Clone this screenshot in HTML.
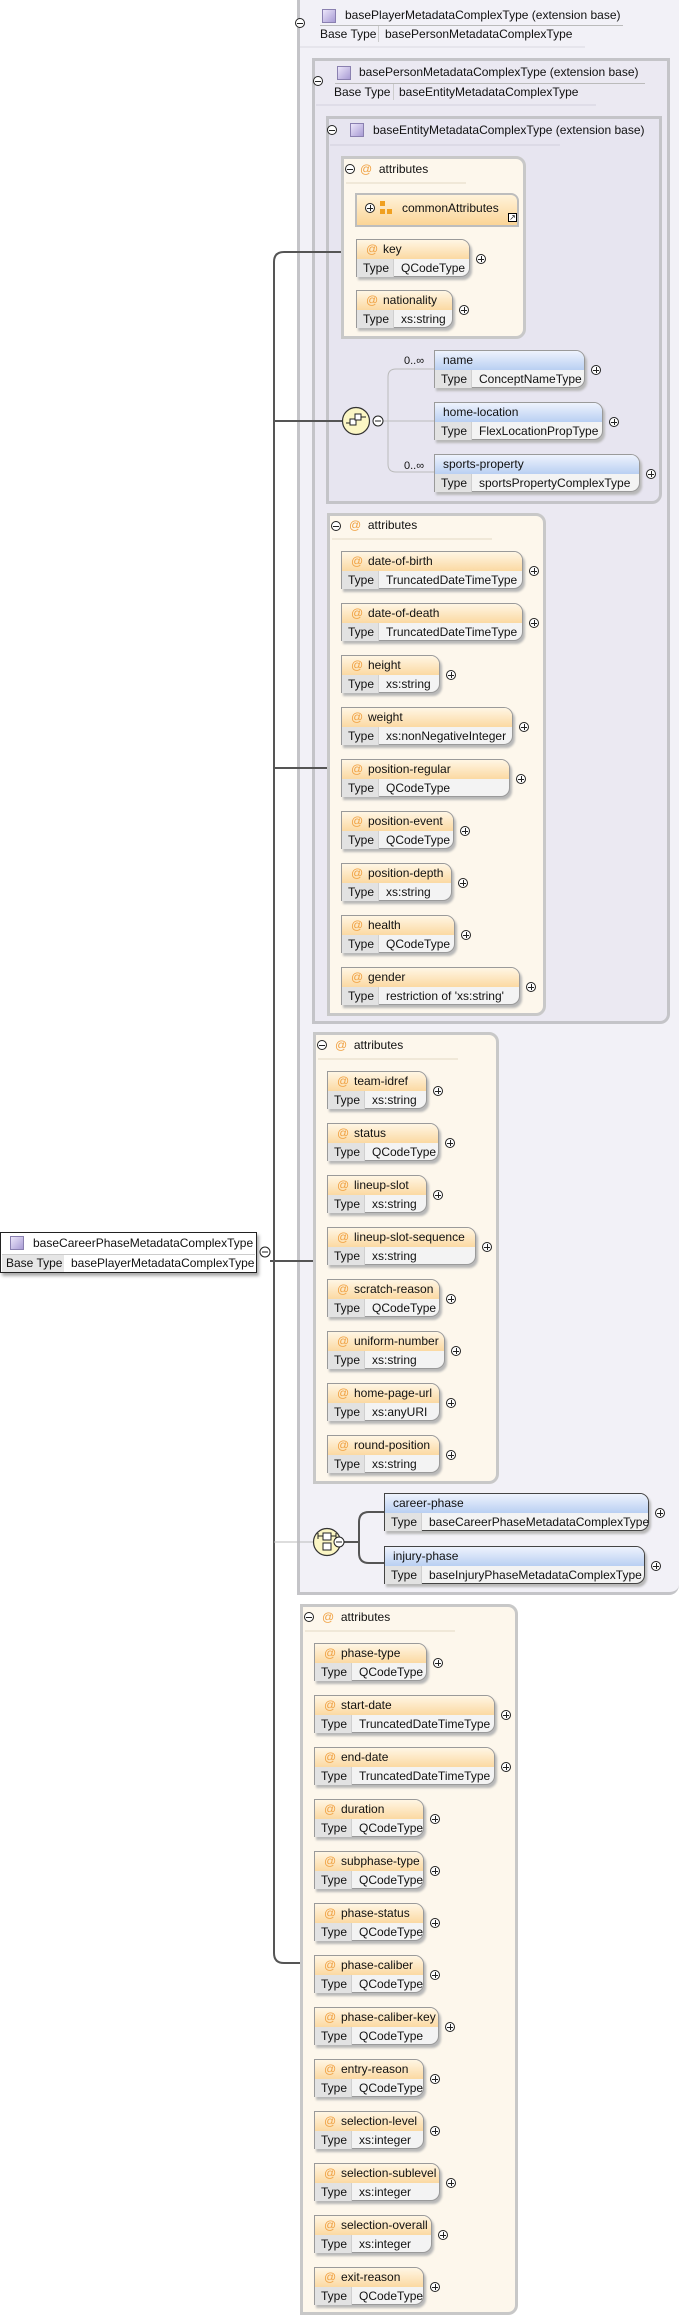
<!DOCTYPE html>
<html><head><meta charset="utf-8"><style>
*{box-sizing:border-box;margin:0;padding:0}
body{width:679px;height:2317px;background:#fff;position:relative;overflow:hidden;font:12px "Liberation Sans",sans-serif;color:#111}
.f{position:absolute;border:3px solid #c4c4c8;border-radius:0 0 10px 0}
.g{position:absolute;border:3px solid #c8c8c8;border-radius:0 10px 10px 0;background:#fdf7ec}
.a,.e{position:absolute;height:38px;border:1px solid #9a9a9a;border-radius:0 9px 9px 0;background:#f3f3f3;box-shadow:2px 3px 2px #b8b8b8;white-space:nowrap}
.h{height:19px;line-height:19px;padding-left:26px;position:relative;border-radius:0 8px 0 0;background:linear-gradient(#fff6e4,#fbd9a2)}
.h i{position:absolute;left:9px;color:#f0a040;font-style:normal}
.e .h{padding-left:8px;background:linear-gradient(#eef3fd,#b9cff2)}
.t{height:18px;line-height:18px}
.t span{display:inline-block;width:37px;padding-left:6px;background:#e2e2e2;border-right:1px solid #d0d0d0;margin-right:7px}
.p{position:absolute;right:-17px;top:14px;width:10px;height:10px;border:1px solid #222;border-radius:50%;background:linear-gradient(#222,#222) center/6px 1px no-repeat,linear-gradient(#222,#222) center/1px 6px no-repeat,#fff}
.m{position:absolute;width:10px;height:10px;border:1px solid #222;border-radius:50%;background:linear-gradient(#222,#222) center/6px 1px no-repeat,#fff}
.ic{position:absolute;width:14px;height:14px;background:linear-gradient(135deg,#ece6fa,#a89bd4);border:1px solid #8a80b0}
.tx{position:absolute;white-space:nowrap;line-height:14px}
.gh{position:absolute;white-space:nowrap}
.gh i{color:#f0a040;font-style:normal}
</style></head><body>

<div class="f" style="left:297px;top:-3px;width:382px;height:1598px;background:#f2f1f7;border-right:none"></div>
<div class="f" style="left:312px;top:58px;width:358px;height:966px;background:#ebe9f2"></div>
<div class="f" style="left:326px;top:116px;width:336px;height:388px;background:#e7e5f0"></div>

<div class="m" style="left:295px;top:18px"></div>
<div class="ic" style="left:322px;top:9px"></div>
<div class="tx" style="left:345px;top:8px">basePlayerMetadataComplexType (extension base)</div>
<div style="position:absolute;left:320px;top:25px;width:303px;height:1px;background:#bbb"></div>
<div class="tx" style="left:320px;top:27px">Base Type</div>
<div style="position:absolute;left:378px;top:26px;width:1px;height:16px;background:#ccc"></div>
<div class="tx" style="left:385px;top:27px">basePersonMetadataComplexType</div>
<div style="position:absolute;left:300px;top:46px;width:285px;height:2px;background:#e6e5ec"></div>

<div class="m" style="left:313px;top:76px"></div>
<div class="ic" style="left:337px;top:66px"></div>
<div class="tx" style="left:359px;top:65px">basePersonMetadataComplexType (extension base)</div>
<div style="position:absolute;left:335px;top:83px;width:310px;height:1px;background:#bbb"></div>
<div class="tx" style="left:334px;top:85px">Base Type</div>
<div style="position:absolute;left:393px;top:84px;width:1px;height:16px;background:#ccc"></div>
<div class="tx" style="left:399px;top:85px">baseEntityMetadataComplexType</div>
<div style="position:absolute;left:316px;top:104px;width:280px;height:2px;background:#dfdde8"></div>

<div class="m" style="left:327px;top:125px"></div>
<div class="ic" style="left:350px;top:123px"></div>
<div class="tx" style="left:373px;top:123px">baseEntityMetadataComplexType (extension base)</div>
<div style="position:absolute;left:330px;top:144px;width:230px;height:2px;background:#dcdae6"></div>

<div class="g" style="left:341px;top:156px;width:185px;height:183px"></div>
<div class="m" style="left:345px;top:164px"></div>
<div class="gh" style="left:360px;top:162px"><i>@</i>&nbsp; attributes</div>
<div style="position:absolute;left:346px;top:182px;width:120px;height:2px;background:#f0e8d8"></div>
<div style="position:absolute;left:355px;top:193px;width:164px;height:34px;border:2px solid #bdbdbd;border-radius:0 8px 0 0;background:linear-gradient(#fff3da,#fbd596)"></div>
<div class="p" style="left:365px;top:203px"></div>
<div style="position:absolute;left:380px;top:201px;width:5px;height:5px;background:#f0a020"></div>
<div style="position:absolute;left:380px;top:209px;width:5px;height:5px;background:#f0a020"></div>
<div style="position:absolute;left:387px;top:209px;width:5px;height:5px;background:#f0a020"></div>
<div class="tx" style="left:402px;top:201px">commonAttributes</div>
<div style="position:absolute;left:508px;top:213px;width:9px;height:9px;border:1px solid #000;background:#fff;font-size:8px;line-height:7px;text-align:center">↗</div>

<div class="a" style="left:356px;top:239px;width:114px"><div class="h"><i>@</i>key</div><div class="t"><span>Type</span>QCodeType</div><b class="p"></b></div>
<div class="a" style="left:356px;top:290px;width:97px"><div class="h"><i>@</i>nationality</div><div class="t"><span>Type</span>xs:string</div><b class="p"></b></div>

<div class="e" style="left:434px;top:350px;width:151px"><div class="h">name</div><div class="t"><span>Type</span>ConceptNameType</div><b class="p"></b></div>
<div class="e" style="left:434px;top:402px;width:169px"><div class="h">home-location</div><div class="t"><span>Type</span>FlexLocationPropType</div><b class="p"></b></div>
<div class="e" style="left:434px;top:454px;width:206px"><div class="h">sports-property</div><div class="t"><span>Type</span>sportsPropertyComplexType</div><b class="p"></b></div>
<div class="tx" style="left:404px;top:354px;font-size:11px">0..∞</div>
<div class="tx" style="left:404px;top:459px;font-size:11px">0..∞</div>

<div class="g" style="left:327px;top:513px;width:219px;height:503px"></div>
<div class="m" style="left:331px;top:521px"></div>
<div class="gh" style="left:349px;top:518px"><i>@</i>&nbsp; attributes</div>
<div style="position:absolute;left:332px;top:538px;width:160px;height:2px;background:#f0e8d8"></div>
<div class="a" style="left:341px;top:551px;width:182px"><div class="h"><i>@</i>date-of-birth</div><div class="t"><span>Type</span>TruncatedDateTimeType</div><b class="p"></b></div>
<div class="a" style="left:341px;top:603px;width:182px"><div class="h"><i>@</i>date-of-death</div><div class="t"><span>Type</span>TruncatedDateTimeType</div><b class="p"></b></div>
<div class="a" style="left:341px;top:655px;width:99px"><div class="h"><i>@</i>height</div><div class="t"><span>Type</span>xs:string</div><b class="p"></b></div>
<div class="a" style="left:341px;top:707px;width:172px"><div class="h"><i>@</i>weight</div><div class="t"><span>Type</span>xs:nonNegativeInteger</div><b class="p"></b></div>
<div class="a" style="left:341px;top:759px;width:169px"><div class="h"><i>@</i>position-regular</div><div class="t"><span>Type</span>QCodeType</div><b class="p"></b></div>
<div class="a" style="left:341px;top:811px;width:113px"><div class="h"><i>@</i>position-event</div><div class="t"><span>Type</span>QCodeType</div><b class="p"></b></div>
<div class="a" style="left:341px;top:863px;width:111px"><div class="h"><i>@</i>position-depth</div><div class="t"><span>Type</span>xs:string</div><b class="p"></b></div>
<div class="a" style="left:341px;top:915px;width:114px"><div class="h"><i>@</i>health</div><div class="t"><span>Type</span>QCodeType</div><b class="p"></b></div>
<div class="a" style="left:341px;top:967px;width:179px"><div class="h"><i>@</i>gender</div><div class="t"><span>Type</span>restriction of 'xs:string'</div><b class="p"></b></div>

<div class="g" style="left:313px;top:1032px;width:186px;height:452px"></div>
<div class="m" style="left:317px;top:1040px"></div>
<div class="gh" style="left:335px;top:1038px"><i>@</i>&nbsp; attributes</div>
<div style="position:absolute;left:318px;top:1058px;width:140px;height:2px;background:#f0e8d8"></div>
<div class="a" style="left:327px;top:1071px;width:100px"><div class="h"><i>@</i>team-idref</div><div class="t"><span>Type</span>xs:string</div><b class="p"></b></div>
<div class="a" style="left:327px;top:1123px;width:112px"><div class="h"><i>@</i>status</div><div class="t"><span>Type</span>QCodeType</div><b class="p"></b></div>
<div class="a" style="left:327px;top:1175px;width:100px"><div class="h"><i>@</i>lineup-slot</div><div class="t"><span>Type</span>xs:string</div><b class="p"></b></div>
<div class="a" style="left:327px;top:1227px;width:149px"><div class="h"><i>@</i>lineup-slot-sequence</div><div class="t"><span>Type</span>xs:string</div><b class="p"></b></div>
<div class="a" style="left:327px;top:1279px;width:113px"><div class="h"><i>@</i>scratch-reason</div><div class="t"><span>Type</span>QCodeType</div><b class="p"></b></div>
<div class="a" style="left:327px;top:1331px;width:118px"><div class="h"><i>@</i>uniform-number</div><div class="t"><span>Type</span>xs:string</div><b class="p"></b></div>
<div class="a" style="left:327px;top:1383px;width:113px"><div class="h"><i>@</i>home-page-url</div><div class="t"><span>Type</span>xs:anyURI</div><b class="p"></b></div>
<div class="a" style="left:327px;top:1435px;width:113px"><div class="h"><i>@</i>round-position</div><div class="t"><span>Type</span>xs:string</div><b class="p"></b></div>

<div class="e" style="left:384px;top:1493px;width:265px;border-color:#444"><div class="h">career-phase</div><div class="t"><span>Type</span>baseCareerPhaseMetadataComplexType</div><b class="p"></b></div>
<div class="e" style="left:384px;top:1546px;width:261px;border-color:#444"><div class="h">injury-phase</div><div class="t"><span>Type</span>baseInjuryPhaseMetadataComplexType</div><b class="p"></b></div>

<div class="g" style="left:300px;top:1604px;width:218px;height:711px"></div>
<div class="m" style="left:304px;top:1612px"></div>
<div class="gh" style="left:322px;top:1610px"><i>@</i>&nbsp; attributes</div>
<div style="position:absolute;left:305px;top:1630px;width:150px;height:2px;background:#f0e8d8"></div>
<div class="a" style="left:314px;top:1643px;width:113px"><div class="h"><i>@</i>phase-type</div><div class="t"><span>Type</span>QCodeType</div><b class="p"></b></div>
<div class="a" style="left:314px;top:1695px;width:181px"><div class="h"><i>@</i>start-date</div><div class="t"><span>Type</span>TruncatedDateTimeType</div><b class="p"></b></div>
<div class="a" style="left:314px;top:1747px;width:181px"><div class="h"><i>@</i>end-date</div><div class="t"><span>Type</span>TruncatedDateTimeType</div><b class="p"></b></div>
<div class="a" style="left:314px;top:1799px;width:110px"><div class="h"><i>@</i>duration</div><div class="t"><span>Type</span>QCodeType</div><b class="p"></b></div>
<div class="a" style="left:314px;top:1851px;width:110px"><div class="h"><i>@</i>subphase-type</div><div class="t"><span>Type</span>QCodeType</div><b class="p"></b></div>
<div class="a" style="left:314px;top:1903px;width:110px"><div class="h"><i>@</i>phase-status</div><div class="t"><span>Type</span>QCodeType</div><b class="p"></b></div>
<div class="a" style="left:314px;top:1955px;width:110px"><div class="h"><i>@</i>phase-caliber</div><div class="t"><span>Type</span>QCodeType</div><b class="p"></b></div>
<div class="a" style="left:314px;top:2007px;width:125px"><div class="h"><i>@</i>phase-caliber-key</div><div class="t"><span>Type</span>QCodeType</div><b class="p"></b></div>
<div class="a" style="left:314px;top:2059px;width:110px"><div class="h"><i>@</i>entry-reason</div><div class="t"><span>Type</span>QCodeType</div><b class="p"></b></div>
<div class="a" style="left:314px;top:2111px;width:110px"><div class="h"><i>@</i>selection-level</div><div class="t"><span>Type</span>xs:integer</div><b class="p"></b></div>
<div class="a" style="left:314px;top:2163px;width:126px"><div class="h"><i>@</i>selection-sublevel</div><div class="t"><span>Type</span>xs:integer</div><b class="p"></b></div>
<div class="a" style="left:314px;top:2215px;width:118px"><div class="h"><i>@</i>selection-overall</div><div class="t"><span>Type</span>xs:integer</div><b class="p"></b></div>
<div class="a" style="left:314px;top:2267px;width:110px"><div class="h"><i>@</i>exit-reason</div><div class="t"><span>Type</span>QCodeType</div><b class="p"></b></div>

<div style="position:absolute;left:0;top:1232px;width:257px;height:41px;border:1.5px solid #222;background:#fff;box-shadow:2px 3px 3px #aaa"></div>
<div class="ic" style="left:10px;top:1236px"></div>
<div class="tx" style="left:33px;top:1236px">baseCareerPhaseMetadataComplexType</div>
<div style="position:absolute;left:2px;top:1254px;width:253px;height:1px;background:#ccc"></div>
<div style="position:absolute;left:2px;top:1255px;width:62px;height:17px;background:#e6e6e6"></div>
<div class="tx" style="left:6px;top:1256px">Base Type</div>
<div class="tx" style="left:71px;top:1256px">basePlayerMetadataComplexType</div>

<svg style="position:absolute;left:0;top:0" width="679" height="2317">
<g fill="none">
<path d="M341,252 H284 Q274,252 274,262 V1953 Q274,1963 284,1963 H300" stroke="#555" stroke-width="2"/>
<path d="M274,421 H342" stroke="#555" stroke-width="2"/>
<path d="M274,768 H327" stroke="#555" stroke-width="2"/>
<path d="M270,1261 H313" stroke="#555" stroke-width="2"/>
<path d="M274,1542 H314" stroke="#bbb" stroke-width="1"/>
<path d="M383,421 H434 M434,369 H396 Q388,369 388,377 V464 Q388,472 396,472 H434" stroke="#bbb" stroke-width="1"/>
<path d="M344,1542 H359 M384,1512 H369 Q359,1512 359,1522 V1553 Q359,1563 369,1563 H384" stroke="#555" stroke-width="2"/>
</g>
<circle cx="356" cy="421" r="13.5" fill="#fbf6c4" stroke="#333" stroke-width="1.2"/>
<g stroke="#222" fill="#fff" stroke-width="1"><rect x="350" y="419" width="6" height="6"/><rect x="355" y="414" width="6" height="6"/><path d="M346,423 H350 M361,417 H366"/></g>
<circle cx="327" cy="1542" r="13.5" fill="#fbf6c4" stroke="#333" stroke-width="1.2"/>
<g stroke="#222" fill="#fff" stroke-width="1"><rect x="323" y="1533" width="8" height="7"/><rect x="323" y="1543" width="8" height="7"/><path d="M318,1536 H323 M331,1536 H336 M318,1533 V1539 M336,1533 V1539"/></g>
<circle cx="378" cy="421" r="5" fill="#fff" stroke="#222"/><path d="M375,421 H381" stroke="#222"/>
<circle cx="339" cy="1542" r="5" fill="#fff" stroke="#222"/><path d="M336,1542 H342" stroke="#222"/>
<circle cx="265" cy="1252" r="5" fill="#fff" stroke="#222"/><path d="M262,1252 H268" stroke="#222"/>
</svg>
</body></html>
